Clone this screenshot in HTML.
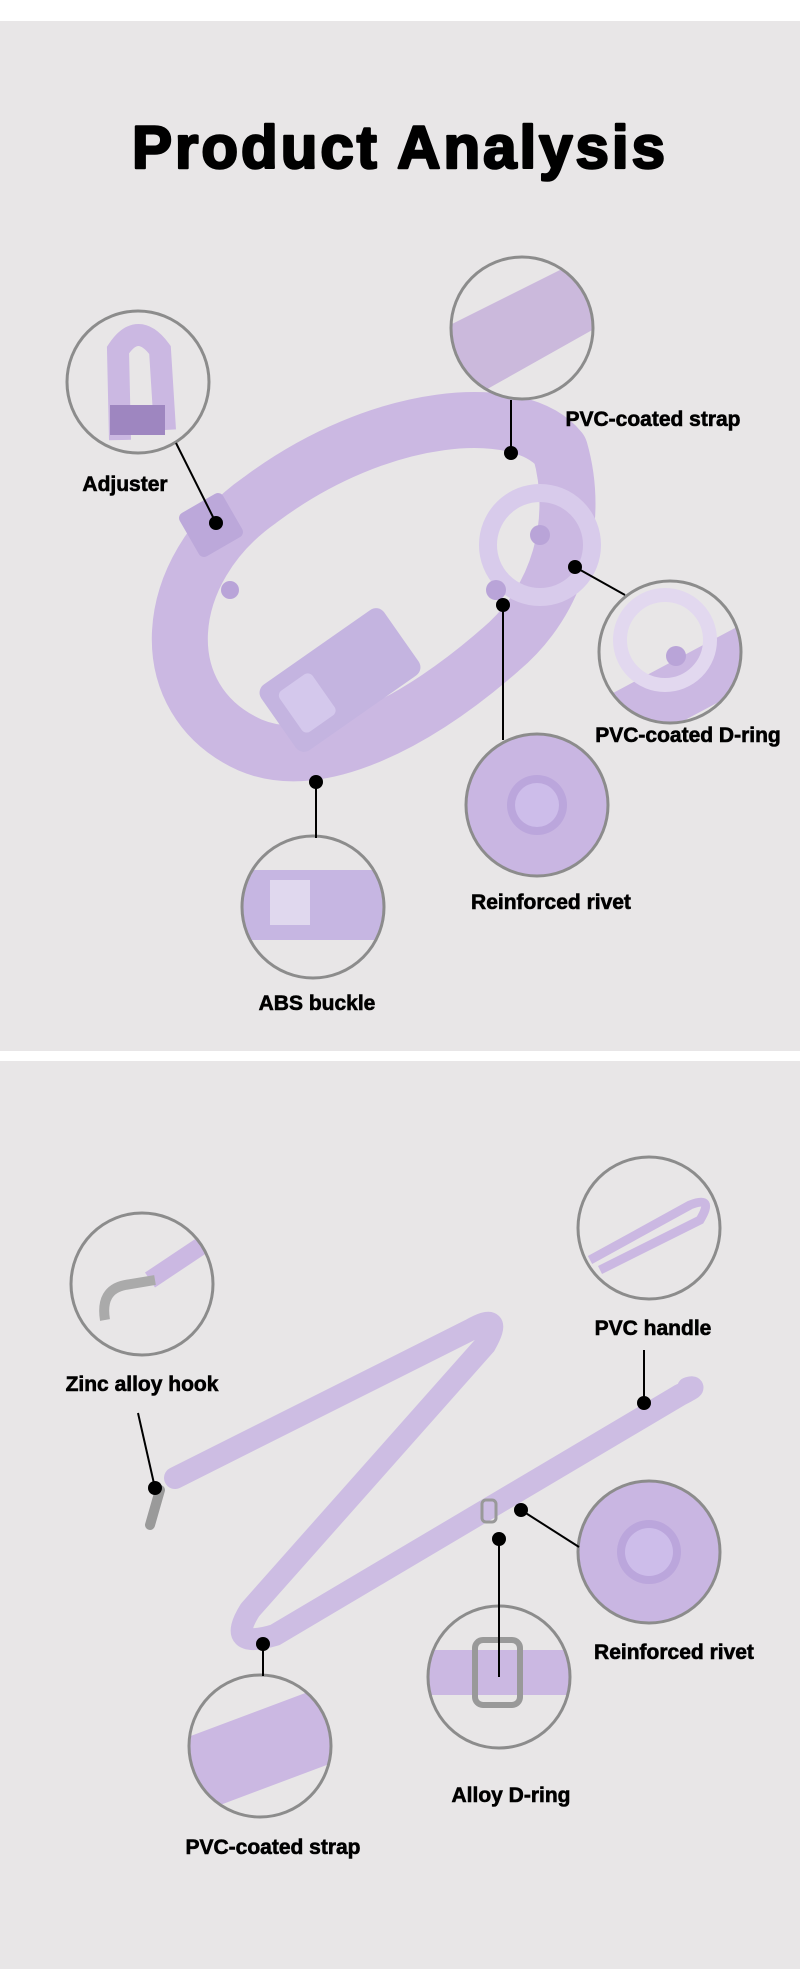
<!DOCTYPE html>
<html><head><meta charset="utf-8"><style>
body{margin:0;width:800px;height:1973px;background:#fff;overflow:hidden}
svg{display:block}
text{font-family:"Liberation Sans",sans-serif;font-weight:bold;fill:#000}
</style></head><body>
<svg width="800" height="1973" viewBox="0 0 800 1973" xmlns="http://www.w3.org/2000/svg">
<defs>
<clipPath id="c1"><circle cx="138" cy="382" r="70"/></clipPath>
<clipPath id="c2"><circle cx="522" cy="328" r="70"/></clipPath>
<clipPath id="c3"><circle cx="670" cy="652" r="70"/></clipPath>
<clipPath id="c4"><circle cx="537" cy="805" r="70"/></clipPath>
<clipPath id="c5"><circle cx="313" cy="907" r="70"/></clipPath>
<clipPath id="d1"><circle cx="142" cy="1284" r="70"/></clipPath>
<clipPath id="d2"><circle cx="649" cy="1228" r="70"/></clipPath>
<clipPath id="d3"><circle cx="649" cy="1552" r="70"/></clipPath>
<clipPath id="d4"><circle cx="499" cy="1677" r="70"/></clipPath>
<clipPath id="d5"><circle cx="260" cy="1746" r="70"/></clipPath>
</defs>
<rect x="0" y="21" width="800" height="1030" fill="#e8e6e7"/>
<rect x="0" y="1061" width="800" height="908" fill="#e8e6e7"/>
<text x="400" y="168" font-size="60" text-anchor="middle" letter-spacing="3" stroke="#000" stroke-width="2.5" stroke-linejoin="round">Product Analysis</text>

<!-- collar -->
<g fill="none" stroke="#cbb8e2" stroke-linecap="round">
<path d="M560,450 C520,400 380,410 260,500 C160,570 150,700 250,745 C320,775 420,720 500,650 C560,600 580,520 560,450" stroke-width="56"/>
</g>
<circle cx="540" cy="545" r="52" fill="none" stroke="#d8cbeb" stroke-width="18"/>
<g transform="rotate(-35 340 680)">
<rect x="265" y="640" width="150" height="80" rx="10" fill="#c4b4e0"/>
<rect x="280" y="655" width="40" height="50" rx="6" fill="#d4c8ec"/>
</g>
<rect x="186" y="500" width="50" height="50" rx="6" fill="#bca8da" transform="rotate(-30 211 525)"/>
<circle cx="230" cy="590" r="9" fill="#b9a4d8"/>
<circle cx="496" cy="590" r="10" fill="#b9a4d8"/>
<circle cx="540" cy="535" r="10" fill="#b9a4d8"/>

<!-- top circles -->
<g clip-path="url(#c1)"><rect x="60" y="300" width="160" height="160" fill="#e8e6e7"/><path d="M120,440 L118,350 Q138,320 160,350 L165,430" fill="none" stroke="#cbb8e2" stroke-width="22"/><rect x="110" y="405" width="55" height="30" fill="#9e86c0"/></g>
<circle cx="138" cy="382" r="71" fill="none" stroke="#8c8c8c" stroke-width="3"/>
<g clip-path="url(#c2)"><rect x="440" y="240" width="170" height="180" fill="#e8e6e7"/><path d="M440,330 L600,250 L610,320 L450,410Z" fill="#cbb9dc"/></g>
<circle cx="522" cy="328" r="71" fill="none" stroke="#8c8c8c" stroke-width="3"/>
<g clip-path="url(#c3)"><rect x="590" y="570" width="170" height="170" fill="#e8e6e7"/><path d="M600,700 L750,620 L760,680 L610,760Z" fill="#cbb8e2"/><circle cx="665" cy="640" r="45" fill="none" stroke="#e2d8ef" stroke-width="14"/><circle cx="676" cy="656" r="10" fill="#b9a4d8"/></g>
<circle cx="670" cy="652" r="71" fill="none" stroke="#8c8c8c" stroke-width="3"/>
<g clip-path="url(#c4)"><rect x="460" y="730" width="160" height="160" fill="#c9b6e2"/><circle cx="537" cy="805" r="30" fill="#bba6dc"/><circle cx="537" cy="805" r="22" fill="#cdbdea"/></g>
<circle cx="537" cy="805" r="71" fill="none" stroke="#8c8c8c" stroke-width="3"/>
<g clip-path="url(#c5)"><rect x="240" y="830" width="160" height="160" fill="#e8e6e7"/><rect x="240" y="870" width="160" height="70" fill="#c6b6e2"/><rect x="270" y="880" width="40" height="45" fill="#e0d8ee"/></g>
<circle cx="313" cy="907" r="71" fill="none" stroke="#8c8c8c" stroke-width="3"/>

<g stroke="#000" stroke-width="2">
<line x1="176" y1="443" x2="216" y2="523"/>
<line x1="511" y1="400" x2="511" y2="453"/>
<line x1="575" y1="567" x2="625" y2="595"/>
<line x1="503" y1="605" x2="503" y2="740"/>
<line x1="316" y1="782" x2="316" y2="838"/>
</g>
<g fill="#000">
<circle cx="216" cy="523" r="7"/><circle cx="511" cy="453" r="7"/><circle cx="575" cy="567" r="7"/><circle cx="503" cy="605" r="7"/><circle cx="316" cy="782" r="7"/>
</g>
<g font-size="21" text-anchor="middle" stroke="#000" stroke-width="0.6">
<text x="125" y="491">Adjuster</text>
<text x="653" y="426">PVC-coated strap</text>
<text x="688" y="742">PVC-coated D-ring</text>
<text x="551" y="909">Reinforced rivet</text>
<text x="317" y="1010">ABS buckle</text>
</g>

<!-- leash -->
<path d="M175,1478 L470,1330 Q505,1310 485,1345 L250,1610 Q225,1650 275,1635 L680,1395 Q700,1385 688,1388" fill="none" stroke="#cdbde3" stroke-width="22" stroke-linecap="round" stroke-linejoin="round"/>
<path d="M160,1490 L150,1525" stroke="#9a9a9a" stroke-width="10" stroke-linecap="round"/>
<rect x="482" y="1500" width="14" height="22" rx="4" fill="none" stroke="#999" stroke-width="3"/>

<!-- bottom circles -->
<g clip-path="url(#d1)"><rect x="70" y="1210" width="150" height="150" fill="#e8e6e7"/><path d="M150,1280 L210,1240" stroke="#cbb8e2" stroke-width="18"/><path d="M105,1320 Q100,1290 125,1285 L155,1280" fill="none" stroke="#aaa" stroke-width="10"/></g>
<circle cx="142" cy="1284" r="71" fill="none" stroke="#8c8c8c" stroke-width="3"/>
<g clip-path="url(#d2)"><rect x="570" y="1150" width="160" height="160" fill="#e8e6e7"/><path d="M590,1260 L690,1205 Q715,1195 700,1220 L600,1270" fill="none" stroke="#cbb8e2" stroke-width="9"/></g>
<circle cx="649" cy="1228" r="71" fill="none" stroke="#8c8c8c" stroke-width="3"/>
<g clip-path="url(#d3)"><rect x="570" y="1475" width="160" height="160" fill="#c9b6e2"/><circle cx="649" cy="1552" r="32" fill="#bba6dc"/><circle cx="649" cy="1552" r="24" fill="#cdbdea"/></g>
<circle cx="649" cy="1552" r="71" fill="none" stroke="#8c8c8c" stroke-width="3"/>
<g clip-path="url(#d4)"><rect x="420" y="1600" width="160" height="160" fill="#e8e6e7"/><rect x="420" y="1650" width="160" height="45" fill="#cbb8e2"/><rect x="475" y="1640" width="45" height="65" rx="8" fill="none" stroke="#999" stroke-width="6"/></g>
<circle cx="499" cy="1677" r="71" fill="none" stroke="#8c8c8c" stroke-width="3"/>
<g clip-path="url(#d5)"><rect x="180" y="1670" width="160" height="160" fill="#e8e6e7"/><path d="M180,1740 L340,1680 L340,1760 L180,1820Z" fill="#cbb8e2"/></g>
<circle cx="260" cy="1746" r="71" fill="none" stroke="#8c8c8c" stroke-width="3"/>

<g stroke="#000" stroke-width="2">
<line x1="138" y1="1413" x2="155" y2="1488"/>
<line x1="644" y1="1350" x2="644" y2="1403"/>
<line x1="521" y1="1510" x2="579" y2="1547"/>
<line x1="499" y1="1539" x2="499" y2="1677"/>
<line x1="263" y1="1644" x2="263" y2="1676"/>
</g>
<g fill="#000">
<circle cx="155" cy="1488" r="7"/><circle cx="644" cy="1403" r="7"/><circle cx="521" cy="1510" r="7"/><circle cx="499" cy="1539" r="7"/><circle cx="263" cy="1644" r="7"/>
</g>
<g font-size="21" text-anchor="middle" stroke="#000" stroke-width="0.6">
<text x="142" y="1391">Zinc alloy hook</text>
<text x="653" y="1335">PVC handle</text>
<text x="674" y="1659">Reinforced rivet</text>
<text x="511" y="1802">Alloy D-ring</text>
<text x="273" y="1854">PVC-coated strap</text>
</g>
</svg>
</body></html>
